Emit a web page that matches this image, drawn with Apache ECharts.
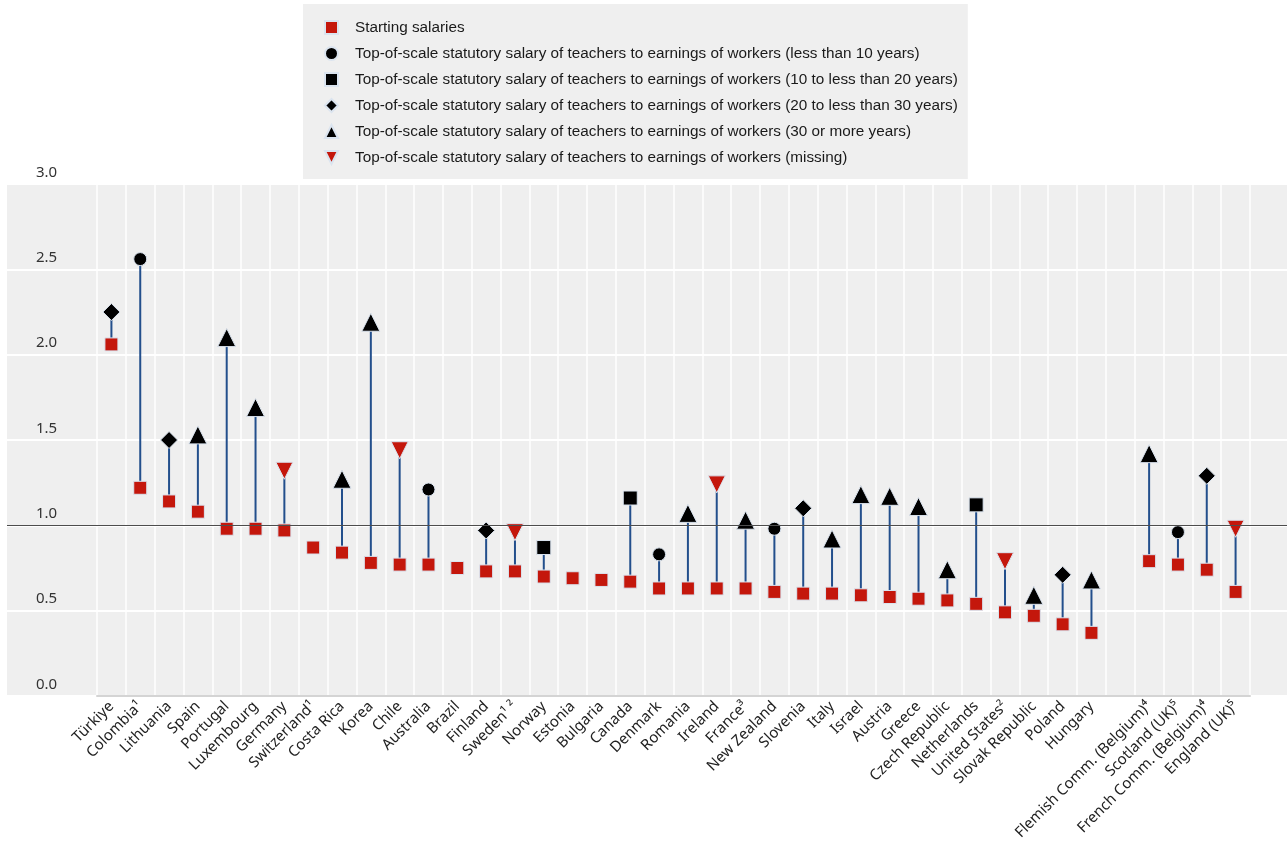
<!DOCTYPE html>
<html>
<head>
<meta charset="utf-8">
<script src="https://cdn.jsdelivr.net/npm/echarts@6/dist/echarts.min.js"></script>
<style>
html,body{margin:0;padding:0;background:#ffffff;}
#chart{width:1287px;height:851px;}
</style>
</head>
<body>
<div id="chart"></div>
<script>
// ---- data ----
const categories = [
  'Türkiye', 'Colombia¹', 'Lithuania', 'Spain', 'Portugal', 'Luxembourg', 'Germany',
  'Switzerland¹', 'Costa Rica', 'Korea', 'Chile', 'Australia', 'Brazil', 'Finland',
  'Sweden¹ ²', 'Norway', 'Estonia', 'Bulgaria', 'Canada', 'Denmark', 'Romania',
  'Ireland', 'France³', 'New Zealand', 'Slovenia', 'Italy', 'Israel', 'Austria',
  'Greece', 'Czech Republic', 'Netherlands', 'United States²', 'Slovak Republic',
  'Poland', 'Hungary', '', 'Flemish Comm. (Belgium)⁴', 'Scotland (UK)⁵',
  'French Comm. (Belgium)⁴', 'England (UK)⁵'
];
const startingSalaries = [
  2.06, 1.22, 1.14, 1.08, 0.98, 0.98, 0.97,
  0.87, 0.84, 0.78, 0.77, 0.77, 0.75, 0.73,
  0.73, 0.70, 0.69, 0.68, 0.67, 0.63, 0.63,
  0.63, 0.63, 0.61, 0.60, 0.60, 0.59, 0.58,
  0.57, 0.56, 0.54, 0.49, 0.47,
  0.42, 0.37, null, 0.79, 0.77,
  0.74, 0.61
];
const topOfScaleSalaries = [
  2.25, 2.56, 1.50, 1.53, 2.10, 1.69, 1.32,
  null, 1.27, 2.19, 1.44, 1.21, null, 0.97,
  0.96, 0.87, null, null, 1.16, 0.83, 1.07,
  1.24, 1.03, 0.98, 1.10, 0.92, 1.18, 1.17,
  1.11, 0.74, 1.12, 0.79, 0.59,
  0.71, 0.68, null, 1.42, 0.96,
  1.29, 0.98
];
// years needed to reach top of scale
const topGroups = [
  'g20', 'lt10', 'g20', 'g30', 'g30', 'g30', 'miss',
  null, 'g30', 'g30', 'miss', 'lt10', null, 'g20',
  'miss', 'g10', null, null, 'g10', 'lt10', 'g30',
  'miss', 'g30', 'lt10', 'g20', 'g30', 'g30', 'g30',
  'g30', 'g30', 'g10', 'miss', 'g30',
  'g20', 'g30', null, 'g30', 'lt10',
  'g20', 'miss'
];
const groupKeys = ['lt10', 'g10', 'g20', 'g30', 'miss'];
const groupNames = [
  'Top-of-scale statutory salary of teachers to earnings of workers (less than 10 years)',
  'Top-of-scale statutory salary of teachers to earnings of workers (10 to less than 20 years)',
  'Top-of-scale statutory salary of teachers to earnings of workers (20 to less than 30 years)',
  'Top-of-scale statutory salary of teachers to earnings of workers (30 or more years)',
  'Top-of-scale statutory salary of teachers to earnings of workers (missing)'
];
const startingName = 'Starting salaries';
const yMin = 0, yMax = 3, yInterval = 0.5;
const referenceLevel = 1.0;

// ---- styles ----
const RED = '#c4170c';
const BLACK = '#000000';
const LINE_BLUE = '#234f8c';
const HALO = '#dbe4ef';
const groupSymbols = ['circle', 'rect', 'diamond', 'triangle', 'path://M0,0 L10,0 L5,10 Z'];
const groupSizes = [13, 14, 17, 18, 17];
const groupColors = [BLACK, BLACK, BLACK, BLACK, RED];

const connectorData = [];
categories.forEach((c, i) => {
  if (startingSalaries[i] != null && topOfScaleSalaries[i] != null) {
    connectorData.push([i, startingSalaries[i], topOfScaleSalaries[i]]);
  }
});
const startData = [];
categories.forEach((c, i) => {
  if (startingSalaries[i] != null) startData.push([i, startingSalaries[i]]);
});

const groupSeries = groupKeys.map((key, gi) => {
  const d = [];
  categories.forEach((c, i) => {
    if (topGroups[i] === key && topOfScaleSalaries[i] != null) d.push([i, topOfScaleSalaries[i]]);
  });
  return {
    name: groupNames[gi],
    type: 'scatter',
    xAxisIndex: 1, yAxisIndex: 1,
    symbol: groupSymbols[gi],
    symbolSize: groupSizes[gi],
    itemStyle: { color: groupColors[gi], borderColor: HALO, borderWidth: 1, opacity: 1 },
    z: 4,
    silent: true,
    data: d
  };
});

const chart = echarts.init(document.getElementById('chart'), null, { renderer: 'canvas' });
const option = {
  animation: false,
  backgroundColor: '#ffffff',
  legend: {
    orient: 'vertical',
    left: 303, top: 4,
    padding: [16, 10, 14, 21],
    backgroundColor: '#efefef',
    itemWidth: 13, itemHeight: 13, itemGap: 11,
    selectedMode: false,
    textStyle: { fontFamily: 'Liberation Sans', fontSize: 15.3, color: '#1a1a1a', lineHeight: 14, padding: [0, 0, 0, 12] },
    data: [startingName].concat(groupNames)
  },
  grid: [
    { left: 7, right: 0, top: 184, bottom: 155, show: true, backgroundColor: '#efefef', borderWidth: 0 },
    { left: 97, right: 37, top: 184, bottom: 155 }
  ],
  xAxis: [
    { gridIndex: 0, type: 'value', min: 0, max: 1, show: false },
    {
      gridIndex: 1, type: 'category', data: categories, boundaryGap: true,
      axisLine: { show: true, lineStyle: { color: '#d4d4d4', width: 2 } },
      axisTick: { show: false },
      splitLine: { show: true, interval: 0, lineStyle: { color: '#ffffff', width: 1.5 } },
      axisLabel: {
        interval: 0, rotate: 45, margin: 8,
        fontFamily: 'Noto Sans', fontSize: 15, color: '#222222'
      }
    }
  ],
  yAxis: [
    {
      gridIndex: 0, type: 'value', min: yMin, max: yMax, interval: yInterval,
      axisLine: { show: false }, axisTick: { show: false },
      splitLine: { show: true, lineStyle: { color: '#ffffff', width: 2 } },
      axisLabel: {
        inside: true, margin: 29, verticalAlign: 'bottom',
        fontFamily: 'Noto Sans', fontSize: 15, lineHeight: 15, color: '#333333',
        padding: [0, 0, 4, 0],
        formatter: v => v.toFixed(1)
      }
    },
    { gridIndex: 1, type: 'value', min: yMin, max: yMax, interval: yInterval, show: false, splitLine: { show: false } }
  ],
  series: [
    {
      type: 'line', xAxisIndex: 0, yAxisIndex: 0, data: [], silent: true, z: 1,
      markLine: {
        silent: true, symbol: ['none', 'none'], label: { show: false },
        lineStyle: { color: '#4d4d4d', width: 1, type: 'solid' },
        emphasis: { disabled: true },
        data: [{ yAxis: referenceLevel }]
      }
    },
    {
      type: 'custom', xAxisIndex: 1, yAxisIndex: 1, z: 2, silent: true,
      data: connectorData,
      renderItem: function (params, api) {
        const p1 = api.coord([api.value(0), api.value(1)]);
        const p2 = api.coord([api.value(0), api.value(2)]);
        return {
          type: 'line',
          shape: { x1: p1[0], y1: p1[1], x2: p2[0], y2: p2[1] },
          style: { stroke: LINE_BLUE, lineWidth: 2 }
        };
      }
    },
    {
      name: startingName, type: 'scatter', xAxisIndex: 1, yAxisIndex: 1,
      symbol: 'rect', symbolSize: 13, z: 3, silent: true,
      itemStyle: { color: RED, borderColor: HALO, borderWidth: 1, opacity: 1 },
      data: startData
    }
  ].concat(groupSeries)
};
chart.setOption(option);
</script>
</body>
</html>
